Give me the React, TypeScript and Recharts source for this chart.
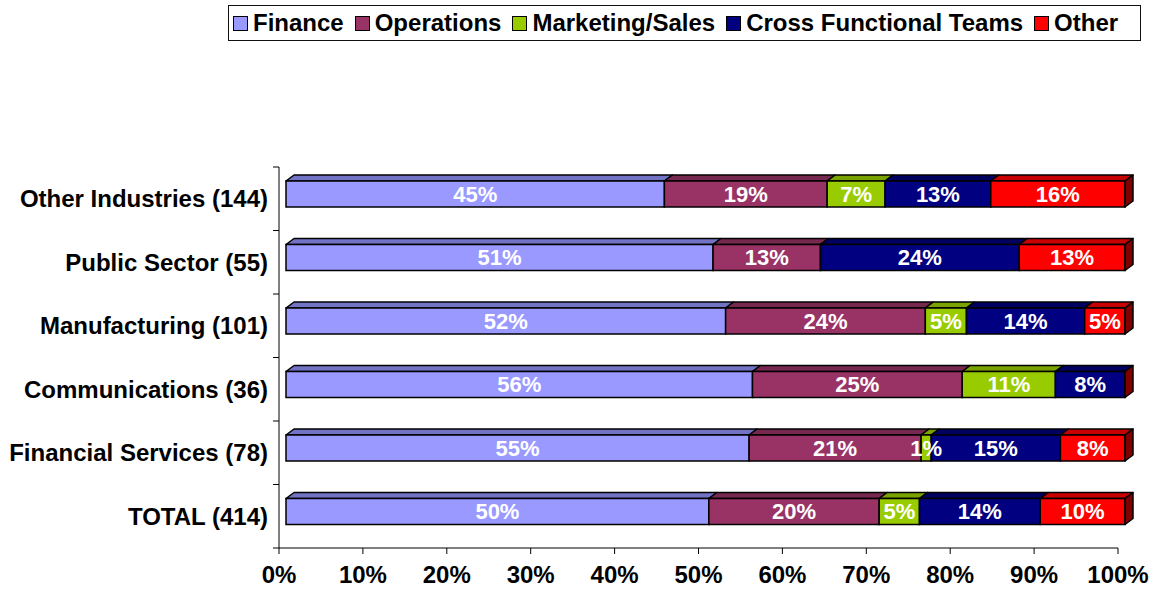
import React from 'react';
import { BarChart, Bar, XAxis, YAxis, Legend } from 'recharts';

const categories = [
  'Other Industries (144)',
  'Public Sector (55)',
  'Manufacturing (101)',
  'Communications (36)',
  'Financial Services (78)',
  'TOTAL (414)',
];
const finance = [45.1, 50.9, 52.4, 55.6, 55.2, 50.4];
const operations = [19.4, 12.8, 23.8, 25.0, 20.5, 20.3];
const marketingSales = [6.9, 0, 4.9, 11.1, 1.2, 4.8];
const crossFunctional = [12.6, 23.7, 14.1, 8.3, 15.4, 14.4];
const other = [16.0, 12.6, 4.8, 0, 7.7, 10.1];
const xTicks = [0, 10, 20, 30, 40, 50, 60, 70, 80, 90, 100];

const seriesKeys = ['finance', 'operations', 'marketing', 'cross', 'other'];
const seriesNames = ['Finance', 'Operations', 'Marketing/Sales', 'Cross Functional Teams', 'Other'];
const frontColors = ['#9999FF', '#993366', '#99CC00', '#000080', '#FF0000'];
const topColors = ['#7373C6', '#76284F', '#7AA300', '#000060', '#C80000'];
const sideColor = '#800000';

const data = categories.map((c, i) => ({
  category: c,
  finance: finance[i],
  operations: operations[i],
  marketing: marketingSales[i],
  cross: crossFunctional[i],
  other: other[i],
}));

const FONT = '"Liberation Sans", Arial, Helvetica, sans-serif';
const OFF = 7; // front face shift
const DX = 8; // depth x
const DY = 6; // depth y
const LIFT = 5; // front face vertical shift
const BAND_HALF = (548 - 167) / categories.length / 2;

const makeShape = (si: number) => (props: any) => {
  const { x, y, width, height, payload, background } = props;
  const fx = x + OFF;
  const fy = y - LIFT;
  const isLast = si === seriesKeys.length - 1;
  const parts: any[] = [];
  if (width > 0.5) {
    parts.push(
      <polygon
        key="top"
        points={`${fx},${fy} ${fx + DX},${fy - DY} ${fx + width + DX},${fy - DY} ${fx + width},${fy}`}
        fill={topColors[si]}
        stroke="#000"
        strokeWidth={1.5}
        strokeLinejoin="round"
      />
    );
    parts.push(
      <rect key="front" x={fx} y={fy} width={width} height={height} fill={frontColors[si]} stroke="#000" strokeWidth={1.5} />
    );
  }
  if (isLast) {
    const R = fx + width;
    parts.push(
      <polygon
        key="side"
        points={`${R},${fy} ${R + DX},${fy - DY} ${R + DX},${fy + height - DY} ${R},${fy + height}`}
        fill={sideColor}
        stroke="#000"
        strokeWidth={1.5}
        strokeLinejoin="round"
      />
    );
    // labels drawn last so they sit above all segments
    let bx: number | null = null;
    let scale: number | null = null;
    if (background && background.width) {
      bx = background.x;
      scale = background.width / 100;
    }
    if (bx !== null && scale !== null) {
      let cum = 0;
      seriesKeys.forEach((k, j) => {
        const v = payload[k] || 0;
        if (v > 0.5) {
          const cx = bx! + (cum + v / 2) * scale! + OFF;
          parts.push(
            <text
              key={`lbl-${k}`}
              x={cx}
              y={fy + height / 2}
              dy="0.36em"
              textAnchor="middle"
              fill="#FFFFFF"
              fontFamily={FONT}
              fontWeight="bold"
              fontSize={22}
            >
              {`${Math.round(v)}%`}
            </text>
          );
        }
        cum += v;
      });
    }
  }
  return <g>{parts}</g>;
};

const YTick = (props: any) => {
  const { x, y, payload, index } = props;
  const half = payload && payload.offset ? payload.offset : BAND_HALF;
  const ax = x + 8;
  return (
    <g>
      <line x1={ax - 6} x2={ax} y1={y - half} y2={y - half} stroke="#000" strokeWidth={1} />
      {index === categories.length - 1 && (
        <line x1={ax - 6} x2={ax} y1={y + half} y2={y + half} stroke="#000" strokeWidth={1} />
      )}
      <text
        x={x - 3}
        y={y}
        dy="0.36em"
        textAnchor="end"
        fill="#000"
        fontFamily={FONT}
        fontWeight="bold"
        fontSize={24}
      >
        {payload.value}
      </text>
    </g>
  );
};

const LegendContent = () => (
  <div
    style={{
      boxSizing: 'border-box',
      width: '100%',
      height: '100%',
      border: '1.5px solid #111',
      display: 'flex',
      alignItems: 'center',
      paddingLeft: 4,
      fontFamily: FONT,
      fontWeight: 'bold',
      fontSize: 24,
      color: '#000',
      whiteSpace: 'nowrap',
    }}
  >
    {seriesNames.map((n, i) => (
      <div key={n} style={{ display: 'flex', alignItems: 'center', marginRight: i < seriesNames.length - 1 ? 11 : 0 }}>
        <span
          style={{
            display: 'inline-block',
            boxSizing: 'border-box',
            width: 15,
            height: 15,
            background: frontColors[i],
            border: '1.5px solid #000',
            marginRight: 5,
          }}
        />
        <span>{n}</span>
      </div>
    ))}
  </div>
);

export default function App() {
  return (
    <div style={{ position: 'absolute', left: 0, top: 0, width: 1154, height: 592, background: '#fff' }}>
      <BarChart
        width={1154}
        height={592}
        data={data}
        layout="vertical"
        margin={{ top: 167, right: 36, bottom: 4, left: 0 }}
        barSize={26}
      >
        <XAxis
          type="number"
          domain={[0, 100]}
          ticks={xTicks}
          tickFormatter={(v: number) => `${v}%`}
          axisLine={{ stroke: '#000', strokeWidth: 1 }}
          tickLine={{ stroke: '#000', strokeWidth: 1 }}
          tickSize={6}
          tickMargin={12}
          height={40}
          interval={0}
          tick={{ fill: '#000', fontFamily: FONT, fontWeight: 'bold', fontSize: 24 }}
        />
        <YAxis
          type="category"
          dataKey="category"
          width={279}
          axisLine={{ stroke: '#000', strokeWidth: 1 }}
          tickLine={false}
          tickSize={6}
          interval={0}
          tick={<YTick />}
        />
        <Legend
          verticalAlign="middle"
          align="center"
          layout="horizontal"
          wrapperStyle={{ left: 228, top: 5, width: 913, height: 36 }}
          content={<LegendContent />}
        />
        {seriesKeys.map((k, i) => (
          <Bar
            key={k}
            dataKey={k}
            name={seriesNames[i]}
            stackId="s"
            fill={frontColors[i]}
            isAnimationActive={false}
            shape={makeShape(i)}
          />
        ))}
      </BarChart>
    </div>
  );
}
